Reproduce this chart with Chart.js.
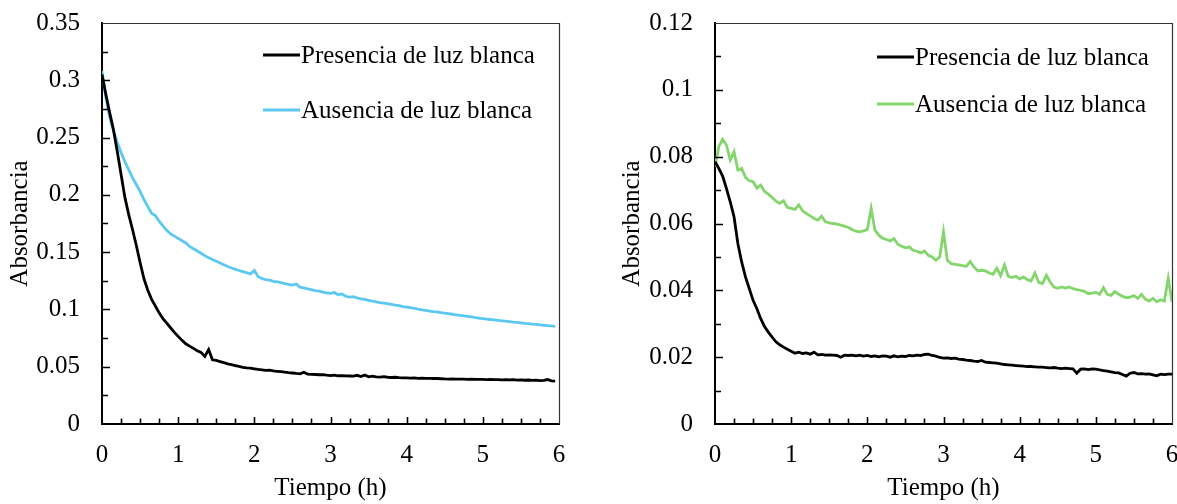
<!DOCTYPE html>
<html>
<head>
<meta charset="utf-8">
<script src="https://cdn.jsdelivr.net/npm/chart.js@4"></script>
<style>
  html, body { margin: 0; padding: 0; background: #fff; overflow: hidden; width: 1177px; height: 504px; }
  #c1 { position: absolute; left: 0; top: 0; }
  #c2 { position: absolute; left: 590px; top: 0; }
</style>
</head>
<body>
<canvas id="c1" width="585" height="504"></canvas>
<canvas id="c2" width="600" height="504"></canvas>
<script>
// ---------- DATA ----------
const seriesNames = ['Presencia de luz blanca', 'Ausencia de luz blanca'];
const xTickLabels = ['0', '1', '2', '3', '4', '5', '6'];
const yTickLabelsLeft = ['0', '0.05', '0.1', '0.15', '0.2', '0.25', '0.3', '0.35'];
const yTickLabelsRight = ['0', '0.02', '0.04', '0.06', '0.08', '0.1', '0.12'];

const timeH = [0,0.05,0.1,0.15,0.2,0.25,0.3,0.35,0.4,0.45,0.5,0.55,0.6,0.65,0.7,0.75,0.8,0.85,0.9,0.95,
  1,1.05,1.1,1.15,1.2,1.25,1.3,1.35,1.4,1.45,1.5,1.55,1.6,1.65,1.7,1.75,1.8,1.85,1.9,1.95,
  2,2.05,2.1,2.15,2.2,2.25,2.3,2.35,2.4,2.45,2.5,2.55,2.6,2.65,2.7,2.75,2.8,2.85,2.9,2.95,
  3,3.05,3.1,3.15,3.2,3.25,3.3,3.35,3.4,3.45,3.5,3.55,3.6,3.65,3.7,3.75,3.8,3.85,3.9,3.95,
  4,4.05,4.1,4.15,4.2,4.25,4.3,4.35,4.4,4.45,4.5,4.55,4.6,4.65,4.7,4.75,4.8,4.85,4.9,4.95,
  5,5.05,5.1,5.15,5.2,5.25,5.3,5.35,5.4,5.45,5.5,5.55,5.6,5.65,5.7,5.75,5.8,5.85,5.9,5.95,6];

// Left panel
const leftPresencia = [0.305,0.288,0.272,0.257,0.238,0.218,0.198,0.183,0.170,0.156,0.141,0.127,0.117,0.109,0.103,0.097,0.092,0.088,0.084,0.080,
  0.0765,0.073,0.070,0.068,0.066,0.064,0.0625,0.059,0.065,0.056,0.0555,0.0545,0.0535,0.0525,0.0518,0.051,0.0502,0.0495,0.049,0.0488,
  0.0482,0.0476,0.0472,0.0468,0.0470,0.0463,0.046,0.0457,0.0452,0.0448,0.0445,0.0441,0.0438,0.0452,0.0436,0.0434,0.0432,0.0430,0.0431,0.0426,
  0.0423,0.0426,0.0421,0.0422,0.0420,0.0419,0.0418,0.0425,0.0414,0.0428,0.0412,0.0418,0.0412,0.0410,0.0413,0.0408,0.0406,0.0408,0.0404,0.0403,
  0.0403,0.0401,0.0402,0.0399,0.0400,0.0398,0.0399,0.0397,0.0397,0.0395,0.0393,0.0392,0.0393,0.0392,0.0391,0.0392,0.0390,0.0391,0.0389,0.0390,
  0.0389,0.0388,0.0390,0.0387,0.0388,0.0386,0.0388,0.0385,0.0387,0.0383,0.0385,0.0382,0.0384,0.0380,0.0383,0.0379,0.0381,0.0388,0.0376,0.0374];
const leftAusencia = [0.308,0.285,0.268,0.256,0.246,0.237,0.229,0.222,0.215,0.209,0.203,0.196,0.190,0.184,0.182,0.177,0.173,0.169,0.166,0.164,
  0.162,0.160,0.158,0.155,0.153,0.151,0.149,0.147,0.145,0.1435,0.142,0.1405,0.139,0.1375,0.1362,0.135,0.134,0.133,0.132,0.131,
  0.134,0.1285,0.127,0.126,0.1255,0.1245,0.124,0.1235,0.1225,0.1218,0.1212,0.1222,0.1195,0.1188,0.118,0.1172,0.1165,0.116,0.1152,0.1145,
  0.1140,0.1148,0.1128,0.1135,0.1115,0.1108,0.1112,0.1100,0.1093,0.1087,0.1080,0.1073,0.1066,0.1060,0.1055,0.1050,0.1044,0.1038,0.1033,0.1025,
  0.1020,0.1015,0.1010,0.1003,0.0997,0.0992,0.0986,0.0981,0.0978,0.0972,0.0967,0.0963,0.0958,0.0953,0.0948,0.0944,0.0939,0.0934,0.0929,0.0924,
  0.0920,0.0916,0.0912,0.0909,0.0905,0.0901,0.0897,0.0894,0.0890,0.0887,0.0883,0.0879,0.0876,0.0872,0.0869,0.0866,0.0862,0.0858,0.0856,0.0853];

// Right panel
const rightPresencia = [0.0785,0.0765,0.0742,0.0705,0.0665,0.0620,0.0540,0.0485,0.0440,0.0405,0.0370,0.0345,0.0315,0.0292,0.0275,0.0260,0.0246,0.0237,0.0230,0.0224,
  0.0218,0.0212,0.0215,0.0211,0.0213,0.0209,0.0215,0.0207,0.0208,0.0206,0.0207,0.0206,0.0205,0.0200,0.0206,0.0205,0.0206,0.0204,0.0206,0.0203,
  0.0205,0.0202,0.0204,0.0201,0.0204,0.0203,0.0200,0.0204,0.0201,0.0203,0.0202,0.0205,0.0204,0.0206,0.0205,0.0208,0.0209,0.0205,0.0203,0.0199,
  0.0197,0.0198,0.0196,0.0197,0.0194,0.0193,0.0191,0.0190,0.0188,0.0187,0.0190,0.0185,0.0184,0.0183,0.0182,0.0180,0.0178,0.0177,0.0176,0.0175,
  0.0174,0.0173,0.0172,0.0172,0.0171,0.0170,0.0170,0.0169,0.0168,0.0169,0.0167,0.0166,0.0167,0.0166,0.0165,0.0152,0.0164,0.0165,0.0163,0.0165,
  0.0164,0.0162,0.0160,0.0158,0.0156,0.0154,0.0153,0.0148,0.0143,0.0152,0.0154,0.0150,0.0151,0.0149,0.0150,0.0147,0.0144,0.0149,0.0148,0.0149,0.0149];
const rightAusencia = [0.077,0.083,0.0852,0.0835,0.0790,0.0815,0.0760,0.0765,0.0738,0.0728,0.0725,0.0706,0.0715,0.0696,0.0688,0.0678,0.0667,0.0660,0.0668,0.0648,
  0.0645,0.0642,0.0656,0.0638,0.0630,0.0623,0.0615,0.0610,0.0622,0.0605,0.0602,0.0600,0.0598,0.0595,0.0592,0.0588,0.0582,0.0577,0.0575,0.0578,
  0.0582,0.0645,0.0580,0.0565,0.0556,0.0552,0.0548,0.0555,0.0538,0.0532,0.0527,0.0530,0.0520,0.0517,0.0512,0.0518,0.0505,0.0500,0.0490,0.0500,
  0.0575,0.0490,0.0480,0.0478,0.0476,0.0474,0.0472,0.0486,0.0470,0.0458,0.0460,0.0458,0.0452,0.0448,0.0466,0.0444,0.0476,0.0442,0.0438,0.0442,
  0.0434,0.0440,0.0432,0.0428,0.0452,0.0424,0.0420,0.0445,0.0425,0.0410,0.0406,0.0410,0.0407,0.0410,0.0405,0.0402,0.0400,0.0397,0.0390,0.0392,
  0.0394,0.0388,0.0408,0.0388,0.0385,0.0396,0.0388,0.0382,0.0378,0.0380,0.0384,0.0376,0.0388,0.0374,0.0368,0.0376,0.0366,0.0372,0.0368,0.0436,0.0366];

// ---------- STYLE ----------
const FONT = "'Liberation Serif', 'Times New Roman', serif";
const FONT_SIZE = 25;
Chart.defaults.font.family = FONT;
Chart.defaults.font.size = FONT_SIZE;
Chart.defaults.color = '#000';

const toXY = (vals) => vals.map((v, i) => ({ x: timeH[i], y: v }));

// Plugin: inward tick marks, thin top/right frame and in-plot legend
const framePlugin = {
  id: 'frameTicks',
  afterDraw(chart, args, opts) {
    const ctx = chart.ctx;
    const a = chart.chartArea;
    const xs = chart.scales.x, ys = chart.scales.y;
    ctx.save();
    ctx.strokeStyle = '#333';
    ctx.lineWidth = 1.2;
    ctx.beginPath();
    ctx.moveTo(a.left, a.top + 0.5); ctx.lineTo(a.right + 0.5, a.top + 0.5); ctx.lineTo(a.right + 0.5, a.bottom);
    ctx.stroke();
    ctx.strokeStyle = '#000';
    ctx.lineWidth = 1.6;
    ctx.beginPath();
    const nx = Math.round((xs.max - xs.min) / opts.xMinor);
    for (let k = 1; k < nx; k++) {
      const v = xs.min + k * opts.xMinor;
      const px = Math.round(xs.getPixelForValue(v)) + 0.5;
      const major = k % Math.round(1 / opts.xMinor) === 0;
      ctx.moveTo(px, a.bottom);
      ctx.lineTo(px, a.bottom - (major ? 7 : 5.5));
    }
    const ny = Math.round((ys.max - ys.min) / opts.yMinor);
    for (let k = 1; k < ny; k++) {
      const v = ys.min + k * opts.yMinor;
      const py = Math.round(ys.getPixelForValue(v)) + 0.5;
      const major = k % 2 === 0;
      ctx.moveTo(a.left, py);
      ctx.lineTo(a.left + (major ? 8 : 6), py);
    }
    ctx.stroke();
    ctx.font = FONT_SIZE + 'px ' + FONT;
    ctx.textBaseline = 'middle';
    ctx.textAlign = 'left';
    chart.data.datasets.forEach((ds, i) => {
      const y = opts.legendY[i];
      ctx.strokeStyle = ds.borderColor;
      ctx.lineWidth = 3;
      ctx.beginPath();
      ctx.moveTo(opts.legendX, y);
      ctx.lineTo(opts.legendX + 37, y);
      ctx.stroke();
      ctx.fillStyle = '#000';
      ctx.fillText(ds.label, opts.legendX + 38, y + 1);
    });
    ctx.restore();
  }
};

function makeChart(canvasId, cfg) {
  return new Chart(document.getElementById(canvasId), {
    type: 'line',
    data: {
      datasets: [
        { label: seriesNames[0], data: toXY(cfg.black), borderColor: '#000000', borderWidth: 2.8 },
        { label: seriesNames[1], data: toXY(cfg.other), borderColor: cfg.color, borderWidth: 2.8 }
      ]
    },
    options: {
      responsive: false,
      animation: false,
      events: [],
      elements: { point: { radius: 0 }, line: { tension: 0 } },
      layout: { padding: { left: 0, top: 23, right: cfg.padRight, bottom: 0 } },
      plugins: {
        legend: { display: false },
        tooltip: { enabled: false },
        frameTicks: { xMinor: 0.25, yMinor: cfg.yMinor, legendX: cfg.legendX, legendY: cfg.legendY }
      },
      scales: {
        x: {
          type: 'linear', min: 0, max: 6,
          grid: { display: false, drawTicks: false },
          border: { display: true, color: '#000', width: 2 },
          ticks: { stepSize: 1, padding: 16, maxRotation: 0, callback: (v, i) => xTickLabels[i] },
          title: { display: true, text: 'Tiempo (h)', padding: { top: 0, bottom: 1 } },
          afterFit: (s) => { s.height = 80; s.paddingLeft = 0; s.paddingRight = 0; }
        },
        y: {
          type: 'linear', min: 0, max: cfg.yMax,
          grid: { display: false, drawTicks: false },
          border: { display: true, color: '#000', width: 2 },
          ticks: { stepSize: cfg.yStep, padding: 22, callback: (v, i) => cfg.yLabels[i] },
          title: { display: true, text: 'Absorbancia', padding: { top: cfg.yTitlePad, bottom: 0 } },
          afterFit: (s) => { s.width = cfg.yWidth; s.paddingTop = 0; s.paddingBottom = 0; }
        }
      }
    },
    plugins: [framePlugin]
  });
}

makeChart('c1', {
  black: leftPresencia, other: leftAusencia, color: '#5BC8F2',
  yMax: 0.35, yStep: 0.05, yMinor: 0.025, yLabels: yTickLabelsLeft,
  yWidth: 102, padRight: 26, yTitlePad: 5,
  legendX: 263, legendY: [55, 110]
});
makeChart('c2', {
  black: rightPresencia, other: rightAusencia, color: '#84D66C',
  yMax: 0.12, yStep: 0.02, yMinor: 0.01, yLabels: yTickLabelsRight,
  yWidth: 125, padRight: 18, yTitlePad: 27,
  legendX: 287, legendY: [57, 104]
});
</script>
</body>
</html>
